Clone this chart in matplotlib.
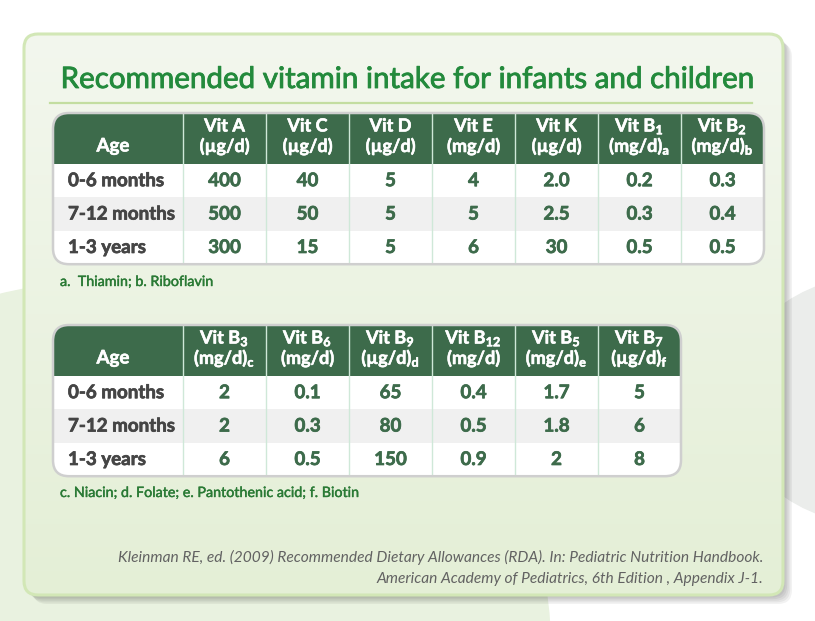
import matplotlib.pyplot as plt
import matplotlib.patheffects as pe
import numpy as np
from matplotlib.patches import FancyBboxPatch, Rectangle, Ellipse
from matplotlib.colors import LinearSegmentedColormap

plt.rcParams['font.family'] = ['Lato', 'DejaVu Sans']
plt.rcParams['mathtext.fontset'] = 'custom'
plt.rcParams['mathtext.rm'] = 'Lato'
plt.rcParams['mathtext.bf'] = 'Lato:bold'
plt.rcParams['mathtext.it'] = 'Lato:italic'

# --- data ---
title = "Recommended vitamin intake for infants and children"
ages = ["0-6 months", "7-12 months", "1-3 years"]

names1 = ["Vit A", "Vit C", "Vit D", "Vit E", "Vit K",
          r"Vit B$_\mathbf{1}$", r"Vit B$_\mathbf{2}$"]
units1 = ["(µg/d)", "(µg/d)", "(µg/d)", "(mg/d)", "(µg/d)",
          r"(mg/d)$_\mathbf{a}$", r"(mg/d)$_\mathbf{b}$"]
vit_a = ["400", "500", "300"]
vit_c = ["40", "50", "15"]
vit_d = ["5", "5", "5"]
vit_e = ["4", "5", "6"]
vit_k = ["2.0", "2.5", "30"]
vit_b1 = ["0.2", "0.3", "0.5"]
vit_b2 = ["0.3", "0.4", "0.5"]
note1 = "a.  Thiamin; b. Riboflavin"

names2 = [r"Vit B$_\mathbf{3}$", r"Vit B$_\mathbf{6}$", r"Vit B$_\mathbf{9}$",
          r"Vit B$_\mathbf{12}$", r"Vit B$_\mathbf{5}$", r"Vit B$_\mathbf{7}$"]
units2 = [r"(mg/d)$_\mathbf{c}$", "(mg/d)", r"(µg/d)$_\mathbf{d}$",
          "(mg/d)", r"(mg/d)$_\mathbf{e}$", r"(µg/d)$_\mathbf{f}$"]
vit_b3 = ["2", "2", "6"]
vit_b6 = ["0.1", "0.3", "0.5"]
vit_b9 = ["65", "80", "150"]
vit_b12 = ["0.4", "0.5", "0.9"]
vit_b5 = ["1.7", "1.8", "2"]
vit_b7 = ["5", "6", "8"]
note2 = "c. Niacin; d. Folate; e. Pantothenic acid; f. Biotin"

source = ["Kleinman RE, ed. (2009) Recommended Dietary Allowances (RDA). In: Pediatric Nutrition Handbook.",
          "American Academy of Pediatrics, 6th Edition , Appendix J-1."]

# --- colours ---
dark = "#3d6b4b"
green_title = "#238a3c"
note_green = "#2a7a35"
sep = "#cfe8d8"

W, H = 815, 621
fig = plt.figure(figsize=(W / 100, H / 100), dpi=100)
ax = fig.add_axes([0, 0, 1, 1])
ax.set_xlim(0, W)
ax.set_ylim(H, 0)
ax.axis('off')

# background
ax.add_patch(Rectangle((0, 0), W, H, color="white", zorder=0))
ax.add_patch(Ellipse((120, 640), 860, 720, color="#e9f2e0", zorder=0.1))
ax.add_patch(Ellipse((880, 400), 300, 250, color="#ebedeb", zorder=0.2))

# card shadow
cx0, cy0, cx1, cy1 = 24, 34, 783, 595
for i in range(6):
    off = 1 + i * 1.6
    ax.add_patch(FancyBboxPatch((cx0 + off, cy0 + off), cx1 - cx0, cy1 - cy0,
                                boxstyle="round,pad=0,rounding_size=14",
                                fc="black", ec="none", alpha=0.05, zorder=0.5))

card = FancyBboxPatch((cx0, cy0), cx1 - cx0, cy1 - cy0,
                      boxstyle="round,pad=0,rounding_size=14",
                      fc="none", ec="#d2e7b6", lw=2.2, zorder=2)
ax.add_patch(card)
cmap = LinearSegmentedColormap.from_list("card", ["#f3f7ee", "#e4efd6"])
grad = np.linspace(0, 1, 256)[:, None]
im = ax.imshow(grad, cmap=cmap, extent=(cx0, cx1, cy1, cy0), aspect='auto', zorder=1)
im.set_clip_path(card)

# title
ax.text(W / 2 + 1, 79, title, ha='center', va='center', fontsize=21.3,
        color=green_title, zorder=3,
        path_effects=[pe.withStroke(linewidth=0.6, foreground=green_title)])
ax.plot([50, 752], [103, 103], color="#c3dda0", lw=1.6, zorder=3)

thick = [pe.withStroke(linewidth=0.5, foreground=dark)]
thick_w = [pe.withStroke(linewidth=0.4, foreground="white")]


def draw_table(top, names, units, cols):
    x0 = 53
    age_w = 130
    col_w = 83
    head_h = 51
    row_h = 33.4
    n = len(cols)
    tw = age_w + n * col_w
    th = head_h + 3 * row_h
    frame = FancyBboxPatch((x0, top), tw, th,
                           boxstyle="round,pad=0,rounding_size=16",
                           fc="white", ec="none", zorder=3)
    ax.add_patch(frame)
    hdr = Rectangle((x0, top), tw, head_h, fc=dark, ec="none", zorder=3.1)
    ax.add_patch(hdr)
    hdr.set_clip_path(frame)
    band = Rectangle((x0, top + head_h + row_h), tw, row_h, fc="#f0f0f0", ec="none", zorder=3.1)
    ax.add_patch(band)
    band.set_clip_path(frame)
    # column separators
    for j in range(n):
        xs = x0 + age_w + j * col_w
        ln, = ax.plot([xs, xs], [top, top + th], color=sep, lw=1.0, zorder=3.2)
        ln.set_clip_path(frame)
    # header text
    ax.text(x0 + 60, top + 33, "Age", ha='center', va='center', fontsize=13.5,
            fontweight='bold', color='white', zorder=4, path_effects=thick_w)
    for j in range(n):
        xc = x0 + age_w + j * col_w + col_w / 2
        ax.text(xc, top + 13, names[j], ha='center', va='center', fontsize=13,
                fontweight='bold', color='white', zorder=4, path_effects=thick_w)
        ax.text(xc, top + 33, units[j], ha='center', va='center', fontsize=13,
                fontweight='bold', color='white', zorder=4, path_effects=thick_w)
    # body
    for i in range(3):
        yc = top + head_h + row_h * i + row_h / 2
        ax.text(x0 + 15, yc, ages[i], ha='left', va='center', fontsize=13.5,
                fontweight='bold', color="#454545", zorder=4,
                path_effects=[pe.withStroke(linewidth=0.5, foreground="#454545")])
        for j, col in enumerate(cols):
            xc = x0 + age_w + j * col_w + col_w / 2
            ax.text(xc, yc, col[i], ha='center', va='center', fontsize=13.5,
                    fontweight='bold', color=dark, zorder=4, path_effects=thick)
    border = FancyBboxPatch((x0, top), tw, th,
                            boxstyle="round,pad=0,rounding_size=16",
                            fc="none", ec="#cfcfcf", lw=1.8, zorder=5)
    ax.add_patch(border)


draw_table(113, names1, units1, [vit_a, vit_c, vit_d, vit_e, vit_k, vit_b1, vit_b2])
ax.text(60, 282, note1, ha='left', va='center', fontsize=10.3, color=note_green, zorder=4,
        path_effects=[pe.withStroke(linewidth=0.3, foreground=note_green)])

draw_table(325, names2, units2, [vit_b3, vit_b6, vit_b9, vit_b12, vit_b5, vit_b7])
ax.text(60, 493, note2, ha='left', va='center', fontsize=10.3, color=note_green, zorder=4,
        path_effects=[pe.withStroke(linewidth=0.3, foreground=note_green)])

for k, line in enumerate(source):
    ax.text(763, 557 + k * 22, line, ha='right', va='center', fontsize=11.2,
            style='italic', color="#626262", zorder=4)

fig.savefig("out.png", dpi=100)
